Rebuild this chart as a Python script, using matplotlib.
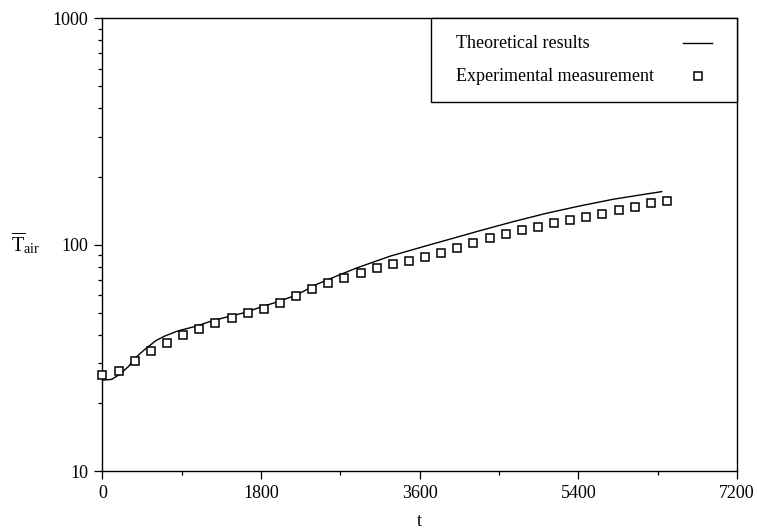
import matplotlib
matplotlib.use("Agg")
import matplotlib.pyplot as plt
from matplotlib import ticker
from matplotlib.offsetbox import DrawingArea

plt.rcParams['font.family'] = ['Liberation Serif', 'DejaVu Serif']
plt.rcParams['mathtext.fontset'] = 'custom'
plt.rcParams['mathtext.rm'] = 'Liberation Serif'
plt.rcParams['mathtext.it'] = 'Liberation Serif:italic'

# Theoretical results (line)
theory_t = [0, 104, 187, 293, 380, 482, 607, 709, 857, 1050, 1239, 1428, 1617,
            1807, 1995, 2204, 2431, 2658, 2885, 3262, 3640, 4019, 4284, 4662,
            5041, 5418, 5796, 6175, 6346]
theory_T = [25.2, 25.4, 26.6, 28.9, 31.8, 34.5, 37.7, 39.5, 41.6, 43.5, 46.0,
            48.1, 50.1, 53.2, 56.0, 60.0, 66.8, 72.7, 78.9, 88.9, 98.0, 107.8,
            115.3, 126.4, 137.7, 148.3, 158.7, 167.5, 171.5]

# Experimental measurement (squares)
exp_t = [0, 183, 366, 549, 732, 915, 1098, 1281, 1464, 1647, 1830, 2013, 2196,
         2379, 2562, 2745, 2928, 3111, 3294, 3477, 3660, 3843, 4026, 4209,
         4392, 4575, 4758, 4941, 5124, 5307, 5490, 5673, 5856, 6039, 6222, 6405]
exp_T = [26.5, 27.6, 30.5, 33.9, 36.9, 39.8, 42.4, 44.9, 47.3, 49.8, 51.8, 55.1,
         59.3, 63.7, 67.5, 71.3, 75.2, 78.6, 81.9, 85.0, 88.0, 92.2, 97.0,
         102.0, 106.7, 111.5, 116.1, 120.1, 124.3, 128.2, 132.2, 136.3, 142.3,
         147.2, 152.4, 156.5]

x_ticks = [0, 1800, 3600, 5400, 7200]
x_minor = [900, 2700, 4500, 6300]
y_ticks = [10, 100, 1000]
y_tick_labels = ['10', '100', '1000']

W, H = 757, 530
fig = plt.figure(figsize=(W / 100, H / 100), dpi=100)
L, R, T, B = 102.5, 737, 18.3, 471
ax = fig.add_axes([L / W, (H - B) / H, (R - L) / W, (B - T) / H])

ax.plot(theory_t, theory_T, color='black', lw=1.0, label='Theoretical results')
ax.plot(exp_t, exp_T, linestyle='none', marker='s', markersize=6.3,
        markerfacecolor='white', markeredgecolor='black', markeredgewidth=1.1,
        label='Experimental measurement', clip_on=False, zorder=3)

ax.set_yscale('log')
ax.set_xlim(0, 7200)
ax.set_ylim(10, 1000)
ax.set_xticks(x_ticks)
ax.set_xticks(x_minor, minor=True)
ax.set_yticks(y_ticks, labels=y_tick_labels)
ax.yaxis.set_minor_locator(ticker.LogLocator(base=10, subs=range(2, 10)))
ax.yaxis.set_minor_formatter(ticker.NullFormatter())

ax.tick_params(axis='both', which='major', direction='out', length=5.8,
               width=0.9, labelsize=13, pad=4.5, colors='black')
ax.tick_params(axis='both', which='minor', direction='out', length=3.0,
               width=0.9)
for s in ax.spines.values():
    s.set_linewidth(1.0)
    s.set_color('black')

ax.set_xlabel('t', fontsize=13, labelpad=8)
ax.set_ylabel(r'$\overline{\mathrm{T}}_{\mathrm{air}}$', fontsize=14.5,
              rotation=0, ha='center', va='center')
ax.yaxis.set_label_coords(-0.1206, 0.5036)

fs = 13
leg = ax.legend(loc='upper right', markerfirst=False, fancybox=False,
                edgecolor='black', framealpha=1, borderaxespad=0,
                fontsize=fs, borderpad=0.93, labelspacing=0.9,
                handlelength=1.6, handletextpad=0.8, handleheight=0.3,
                numpoints=1, shadow=False)
leg.get_frame().set_linewidth(1.0)

# left-align texts, right-align handles in each row, and widen side padding
hb = leg._legend_handle_box
for col in hb.get_children():
    for row in col.get_children():
        row.mode = 'expand'
        row.width = 256
sp1 = DrawingArea(5.8, 0.0)
sp2 = DrawingArea(5.8, 0.0)
for sp in (sp1, sp2):
    try:
        sp.set_figure(fig)
    except Exception:
        pass
hb._children = [sp1] + list(hb.get_children()) + [sp2]
hb.sep = 0

fig.savefig('out.png', dpi=100)
